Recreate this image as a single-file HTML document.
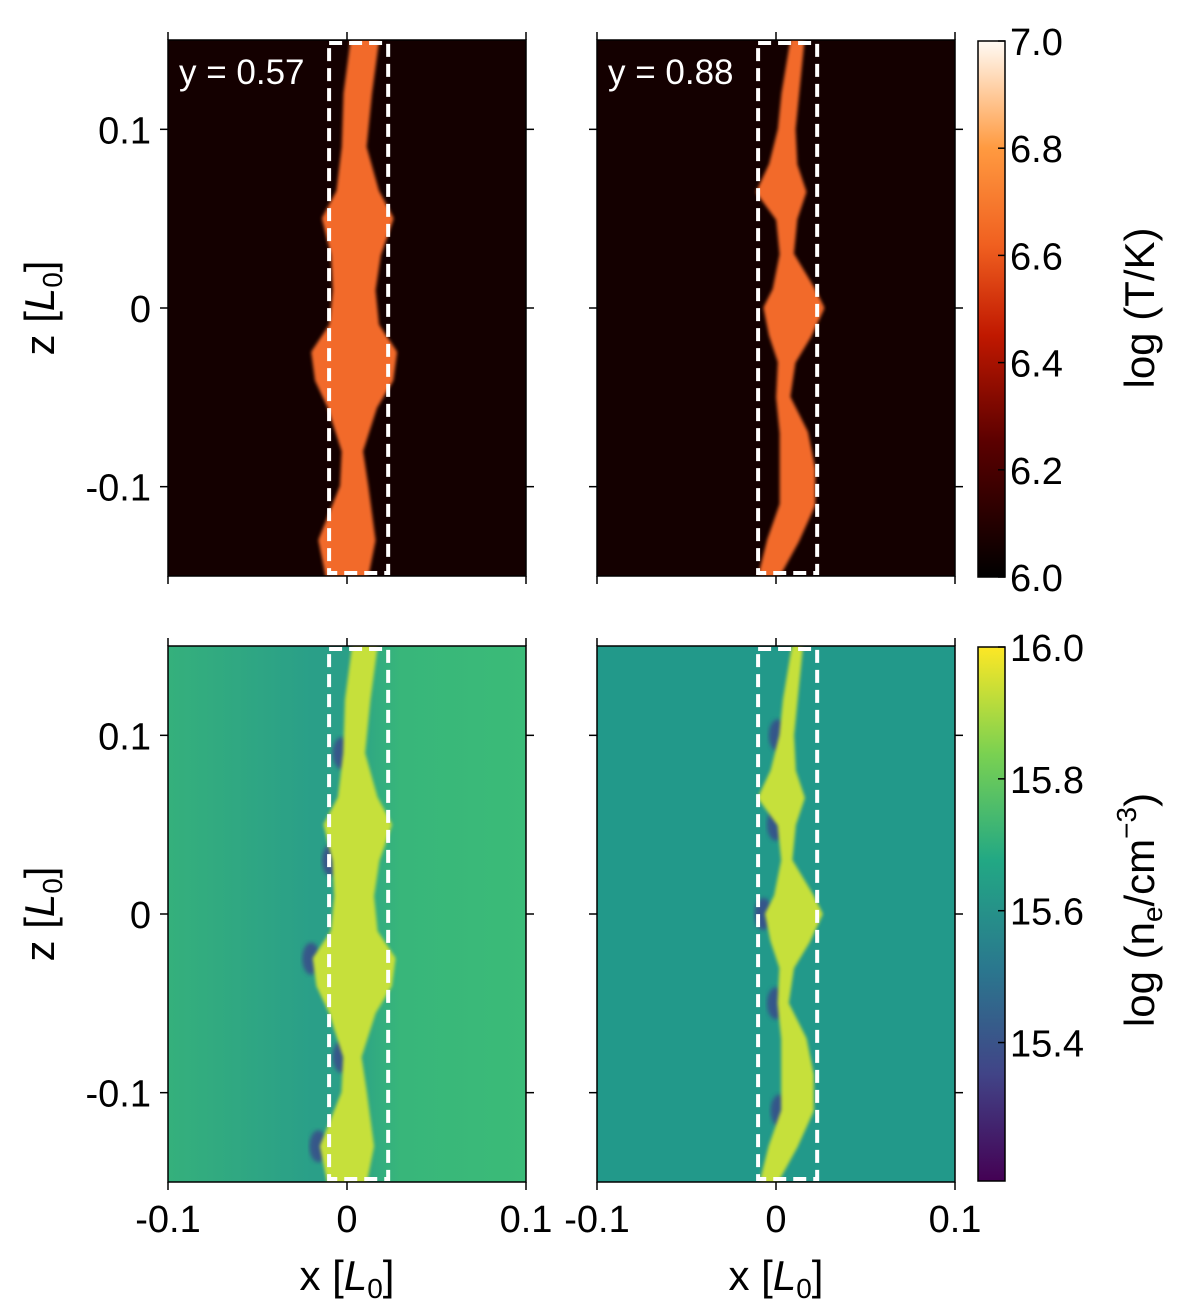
<!DOCTYPE html>
<html><head><meta charset="utf-8">
<style>
body{margin:0;background:#fff;width:1200px;height:1309px;overflow:hidden}
svg{display:block;font-family:"Liberation Sans",Arial,sans-serif}
</style></head>
<body>
<svg id="fig" width="1200" height="1309" viewBox="0 0 1200 1309">
<defs>
<linearGradient id="hot" x1="0" y1="1" x2="0" y2="0">
<stop offset="0" stop-color="#000"/><stop offset="0.25" stop-color="#5a0000"/><stop offset="0.45" stop-color="#c01800"/>
<stop offset="0.62" stop-color="#f06020"/><stop offset="0.8" stop-color="#ff9a40"/><stop offset="1" stop-color="#fffaf4"/></linearGradient>
<linearGradient id="vir" x1="0" y1="1" x2="0" y2="0">
<stop offset="0" stop-color="#440154"/><stop offset="0.2" stop-color="#414487"/><stop offset="0.4" stop-color="#2a788e"/>
<stop offset="0.6" stop-color="#22a884"/><stop offset="0.8" stop-color="#7ad151"/><stop offset="1" stop-color="#fde725"/></linearGradient>
<linearGradient id="bgL" x1="0" y1="0" x2="1" y2="0">
<stop offset="0" stop-color="#35b07c"/><stop offset="0.4" stop-color="#2a9f88"/><stop offset="0.5" stop-color="#2a9f88"/><stop offset="0.65" stop-color="#38b67a"/><stop offset="1" stop-color="#3bbb78"/></linearGradient>
<filter id="blur"><feGaussianBlur stdDeviation="2"/></filter>
<filter id="soft"><feGaussianBlur stdDeviation="1.5"/></filter>
</defs>
<g id="panels"></g>
</svg>
<script>
const xTicks=[-0.1,0,0.1];
const xTickLabels=["-0.1","0","0.1"];
const zTicks=[0.1,0,-0.1];
const zTickLabels=["0.1","0","-0.1"];
const tTicks=[6.0,6.2,6.4,6.6,6.8,7.0];
const nTicks=[15.4,15.6,15.8,16.0];
const boxX=[-0.01,0.023];
// plume skeleton: z, center x, half width
const plumeZ_L=[0.15,0.12,0.09,0.065,0.05,0.03,0.01,-0.01,-0.025,-0.04,-0.055,-0.08,-0.1,-0.115,-0.13,-0.15];
const plumeX_L=[0.01,0.006,0.004,0.006,0.006,0.005,0.004,0.004,0.004,0.004,0.003,0.003,0.004,0.002,0.0,0.0];
const plumeW_L=[0.006,0.006,0.005,0.01,0.018,0.012,0.01,0.012,0.022,0.02,0.012,0.004,0.006,0.01,0.014,0.01];
const plumeZ_R=[0.15,0.12,0.1,0.08,0.065,0.05,0.03,0.01,0.0,-0.015,-0.03,-0.05,-0.07,-0.09,-0.11,-0.13,-0.15];
const plumeX_R=[0.012,0.008,0.006,0.004,0.003,0.006,0.006,0.01,0.01,0.008,0.006,0.004,0.01,0.012,0.012,0.004,-0.004];
const plumeW_R=[0.002,0.003,0.003,0.006,0.012,0.004,0.002,0.01,0.015,0.01,0.003,0.002,0.006,0.008,0.008,0.007,0.004];
const panelsDef=[
 {x:168,y:40,kind:"T",label:"y = 0.57",z:plumeZ_L,px:plumeX_L,pw:plumeW_L,name:"temperature-y057"},
 {x:597,y:40,kind:"T",label:"y = 0.88",z:plumeZ_R,px:plumeX_R,pw:plumeW_R,name:"temperature-y088"},
 {x:168,y:646,kind:"N",label:"",z:plumeZ_L,px:plumeX_L,pw:plumeW_L,name:"density-y057"},
 {x:597,y:646,kind:"N",label:"",z:plumeZ_R,px:plumeX_R,pw:plumeW_R,name:"density-y088"}];
const W=358,H=536;
const NS="http://www.w3.org/2000/svg";
const root=document.getElementById('panels');
function mk(t,a,p){const e=document.createElementNS(NS,t);for(const k in a)e.setAttribute(k,a[k]);(p||root).appendChild(e);return e;}
panelsDef.forEach((P,i)=>{
 const X=v=>P.x+(v+0.1)*W/0.2;
 const Z=v=>P.y+(0.15-v)*H/0.3;
 const g=mk('g',{});
 
 
 const bg=mk('rect',{x:P.x,y:P.y,width:W,height:H,fill:P.kind=="T"?"#140000":(i==2?"url(#bgL)":"#22998a")},g);
 
 
 let left=[],right=[];
 for(let k=0;k<P.z.length;k++){left.push(X(P.px[k]-P.pw[k])+','+Z(P.z[k]));right.unshift(X(P.px[k]+P.pw[k])+','+Z(P.z[k]));}
 const col=P.kind=="T"?"#f26a2c":"#c6e03a";
 if(P.kind=="N"){
  for(let k=2;k<P.z.length-1;k+=3){
   const d=mk('ellipse',{cx:X(P.px[k]-P.pw[k]-0.002),cy:Z(P.z[k]),rx:9,ry:16,fill:"#3b3f8a",opacity:0.75,filter:"url(#blur)"},g);
   
   
  }
 }
 const cp=mk('clipPath',{id:'cp'+i},g);
 mk('rect',{x:P.x,y:P.y,width:W,height:H},cp);
 const pl=mk('polygon',{points:left.concat(right).join(' '),fill:col,stroke:col,'stroke-width':P.kind=="N"?4:7,'stroke-linejoin':'round',filter:'url(#soft)','clip-path':'url(#cp'+i+')'},g);
 
 
 const bx=mk('rect',{x:X(boxX[0]),y:P.y+3,width:X(boxX[1])-X(boxX[0]),height:H-6,fill:"none",stroke:"#fff",'stroke-width':4,'stroke-dasharray':'13,7'},g);
 
 
 const fr=mk('rect',{x:P.x,y:P.y,width:W,height:H,fill:"none",stroke:"#000",'stroke-width':1.5},g);
 
 
 xTicks.forEach((v,k)=>{
  const t1=mk('line',{x1:X(v),x2:X(v),y1:P.y,y2:P.y-8,stroke:"#000",'stroke-width':1.5},g);
  
  
  const t2=mk('line',{x1:X(v),x2:X(v),y1:P.y+H,y2:P.y+H+8,stroke:"#000",'stroke-width':1.5},g);
  
  
  if(P.kind=="N"){
   const tl=mk('text',{x:X(v),y:1232,'font-size':38,'text-anchor':'middle'},g);tl.textContent=xTickLabels[k];
   
   
  }
 });
 zTicks.forEach((v,k)=>{
  const t1=mk('line',{x1:P.x,x2:P.x-8,y1:Z(v),y2:Z(v),stroke:"#000",'stroke-width':1.5},g);
  
  
  const t2=mk('line',{x1:P.x+W,x2:P.x+W+8,y1:Z(v),y2:Z(v),stroke:"#000",'stroke-width':1.5},g);
  
  
  if(i%2==0){
   const tl=mk('text',{x:151,y:Z(v)+14,'font-size':38,'text-anchor':'end'},g);tl.textContent=zTickLabels[k];
   
   
  }
 });
 if(P.label){
  const lb=mk('text',{x:P.x+11,y:P.y+44,'font-size':35,fill:"#fff"},g);lb.textContent=P.label;
  
  
 }
 if(i%2==0){
  const yl=mk('text',{transform:`translate(54,${P.y+H/2}) rotate(-90)`,'font-size':42,'text-anchor':'middle'},g);
  yl.innerHTML='z [<tspan font-style="italic">L</tspan><tspan font-size="28" dy="8">0</tspan><tspan dy="-8">]</tspan>';
  
  
 }
 if(P.kind=="N"){
  const xl=mk('text',{x:P.x+W/2,y:1290,'font-size':42,'text-anchor':'middle'},g);
  xl.innerHTML='x [<tspan font-style="italic">L</tspan><tspan font-size="28" dy="8">0</tspan><tspan dy="-8">]</tspan>';
  
  
 }
});
function cbar(y0,h,grad,ticks,lo,hi,name,titleHTML,ty){
 const g=mk('g',{});
 
 
 mk('rect',{x:978,y:y0,width:27,height:h,fill:grad,stroke:"#000",'stroke-width':1.5},g);
 ticks.forEach(v=>{
  const y=y0+(hi-v)/(hi-lo)*h;
  const t=mk('line',{x1:998,x2:1005,y1:y,y2:y,stroke:"#000",'stroke-width':1.5},g);
  
  
  const tl=mk('text',{x:1010,y:y+14,'font-size':38},g);tl.textContent=v.toFixed(1);
  
  
 });
 const tt=mk('text',{transform:`translate(1154,${ty}) rotate(-90)`,'font-size':42,'text-anchor':'middle'},g);
 tt.innerHTML=titleHTML;
 
 
}
cbar(41,536,"url(#hot)",tTicks,6.0,7.0,"temperature-colorbar","log (T/K)",308);
cbar(647,534,"url(#vir)",nTicks,15.19,16.0,"density-colorbar",'log (n<tspan font-size="28" dy="8">e</tspan><tspan dy="-8">/cm</tspan><tspan font-size="28" dy="-18">−3</tspan><tspan dy="18">)</tspan>',910);
</script>
</body></html>
